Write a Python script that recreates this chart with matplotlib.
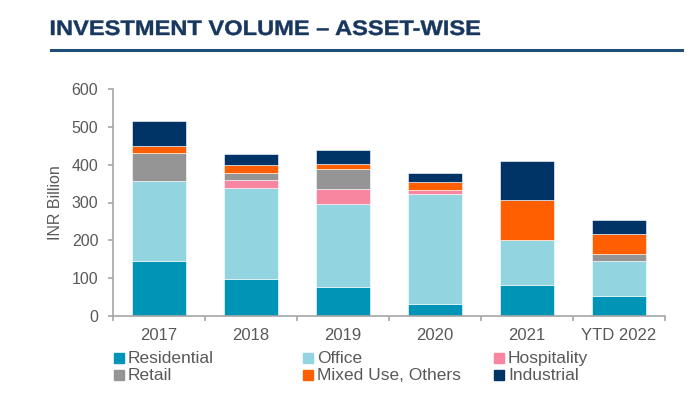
import numpy as np
import matplotlib.pyplot as plt
from matplotlib.lines import Line2D
from matplotlib.textpath import TextPath
from matplotlib.patches import PathPatch
from matplotlib.font_manager import FontProperties
from matplotlib.transforms import Affine2D

plt.rcParams['font.family'] = ['Liberation Sans', 'DejaVu Sans']

years = ['2017', '2018', '2019', '2020', '2021', 'YTD 2022']
residential = [145, 97, 76, 32, 82, 52]
office = [212, 241, 219, 291, 118, 93]
hospitality = [0, 22, 40, 9, 0, 0]
retail = [74, 18, 54, 0, 0, 19]
mixed = [18, 20, 12, 21, 107, 52]
industrial = [66, 29, 37, 26, 102, 38]

series = [
    ('Residential', residential, '#0095B6'),
    ('Office', office, '#92D5E0'),
    ('Hospitality', hospitality, '#F886A0'),
    ('Retail', retail, '#959595'),
    ('Mixed Use, Others', mixed, '#FF5F00'),
    ('Industrial', industrial, '#003366'),
]

W, H = 700, 400
grey = '#595959'
axis_grey = '#A6A6A6'
fig = plt.figure(figsize=(7, 4), dpi=100)
ax = fig.add_axes([113 / W, 1 - 316 / H, 552 / W, 227 / H])

x = np.arange(len(years))
bottom = np.zeros(len(years))
for name, vals, col in series:
    ax.bar(x, vals, 0.59, bottom=bottom, color=col, edgecolor='white',
           linewidth=0.4, label=name, zorder=2)
    bottom += np.array(vals)

ax.set_xlim(-0.5, len(years) - 0.5)
ax.set_ylim(0, 600)
ax.set_yticks(range(0, 601, 100))
ax.set_xticks(x)
ax.set_xticklabels(years)
ax.set_xticks(np.arange(-0.5, len(years)), minor=True)
ax.tick_params(axis='x', which='major', length=0, pad=9, labelsize=12, labelcolor=grey)
ax.tick_params(axis='x', which='minor', length=3.6, color=axis_grey, width=1.2)
ax.tick_params(axis='y', length=3.6, color=axis_grey, width=1.2, labelsize=11.5,
               labelcolor=grey, pad=7)
for s in ['top', 'right']:
    ax.spines[s].set_visible(False)
for s in ['left', 'bottom']:
    ax.spines[s].set_color(axis_grey)
    ax.spines[s].set_linewidth(1.2)
ax.set_ylabel('INR Billion', fontsize=11.5, color=grey)
ax.yaxis.set_label_coords(-0.09, 0.5)

# legend, 3 columns x 2 rows
col_x = [118.7, 308, 499]
row_y = [358.3, 375]
for i, (name, _, col) in enumerate(series):
    px, py = col_x[i % 3], row_y[i // 3]
    fig.add_artist(Line2D([px / W], [1 - py / H], marker='s', markersize=6.5,
                          markerfacecolor=col, markeredgecolor=col, linestyle='none'))
    fig.text((px + 9) / W, 1 - py / H, name, fontsize=12.5, color=grey, va='center')

# title drawn as a path so it can be fitted to the reference width
tp = TextPath((0, 0), 'INVESTMENT VOLUME \u2013 ASSET-WISE', size=21,
              prop=FontProperties(family='Liberation Sans', weight='bold'))
ext = tp.get_extents()
sx = 429 / ext.width
tr = Affine2D().translate(-ext.x0, 0).scale(sx / W, 1 / H).translate(51 / W, 1 - 35 / H)
fig.add_artist(PathPatch(tp, facecolor='#17375E', edgecolor='#17375E', linewidth=0.3,
                         transform=tr + fig.transFigure))
fig.add_artist(Line2D([51 / W, 682 / W], [1 - 50 / H, 1 - 50 / H],
                      color='#1F4E79', linewidth=2.2))

fig.savefig('out.png', dpi=100)
